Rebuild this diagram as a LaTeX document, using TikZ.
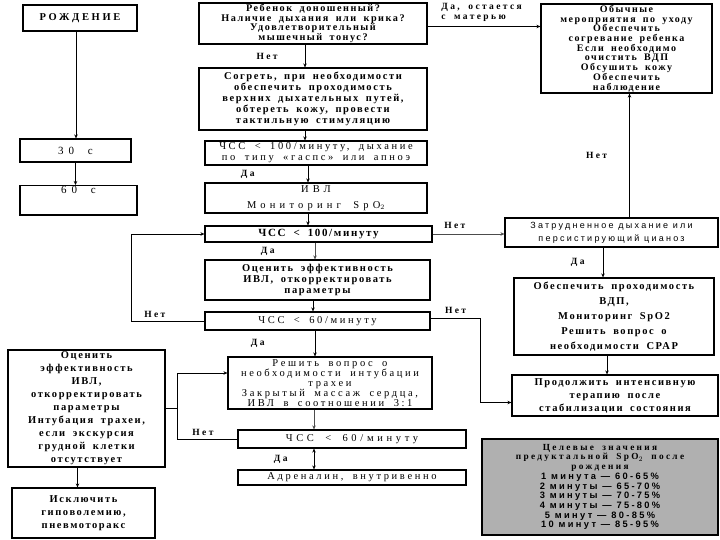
\documentclass[tikz,border=0pt]{standalone}
\usepackage{fontspec}
\setmainfont{Liberation Serif}
\newfontfamily\shirfont[LetterSpace=15, WordSpace=1.8]{Liberation Serif}
\newfontfamily\shirokfont[LetterSpace=25, WordSpace=1.8]{Liberation Serif}
\newfontfamily\shirsans[LetterSpace=25]{Liberation Sans}
\usetikzlibrary{arrows.meta}
\tikzset{
  blok/.style={draw, line width=1.2pt, align=center, inner sep=1pt,
    font=\shirfont\bfseries\fontsize{10.2}{9.6}\selectfont},
  tonkij/.style={font=\shirokfont\fontsize{10.5}{11}\selectfont},
  strelka/.style={-{Stealth[length=4pt,width=3.5pt]}, line width=0.8pt},
  metka/.style={inner sep=1pt, font=\shirokfont\bfseries\fontsize{9.5}{10}\selectfont}
}
\begin{document}
\begin{tikzpicture}[x=1pt,y=-1pt]
\useasboundingbox (0,0) rectangle (720,540);
% left column
\node[blok, minimum width=114, minimum height=26, font=\shirokfont\bfseries\fontsize{10.5}{11}\selectfont] (rozhd) at (80,18) {РОЖДЕНИЕ};
\node[blok, minimum width=111, minimum height=23, font=\shirokfont\addfontfeatures{LetterSpace=45}\fontsize{11}{11}\selectfont] (s30) at (75.5,150.5) {30 с};
\node[blok, minimum width=117, minimum height=27, anchor=north, font=\shirokfont\addfontfeatures{LetterSpace=45}\fontsize{11}{11}\selectfont] (s60) at (78.5,185) {60 с\\[9pt]};
% main column
\node[blok, minimum width=228, minimum height=41] (rebenok) at (313,23.5) {Ребенок доношенный?\\Наличие дыхания или крика?\\Удовлетворительный\\мышечный тонус?};
\node[blok, minimum width=228, minimum height=62, font=\shirfont\bfseries\fontsize{10.5}{11}\selectfont] (sogret) at (313,99) {Согреть, при необходимости\\обеспечить проходимость\\верхних дыхательных путей,\\обтереть кожу, провести\\тактильную стимуляцию};
\node[blok, minimum width=222, minimum height=24, tonkij] (chss1) at (316,153) {ЧСС < 100/минуту, дыхание\\по типу «гаспс» или апноэ};
\node[blok, minimum width=222, minimum height=30, font=\shirokfont\addfontfeatures{LetterSpace=40}\fontsize{10.5}{16}\selectfont] (ivl) at (316,198) {ИВЛ\\Мониторинг SpO$_2$};
\node[blok, minimum width=227, minimum height=16, font=\shirfont\bfseries\fontsize{11}{12}\selectfont] (chss2) at (318.5,234) {ЧСС < 100/минуту};
\node[blok, minimum width=225, minimum height=40, font=\shirfont\bfseries\fontsize{10.5}{11}\selectfont] (ocenit) at (317.5,280) {Оценить эффективность\\ИВЛ, откорректировать\\параметры};
\node[blok, minimum width=225, minimum height=18, tonkij] (chss3) at (317.5,321) {ЧСС < 60/минуту};
\node[blok, minimum width=204, minimum height=52, font=\shirokfont\fontsize{10.5}{10}\selectfont] (reshit) at (330,383) {Решить вопрос о\\необходимости интубации\\трахеи\\Закрытый массаж сердца,\\ИВЛ в соотношении 3:1};
\node[blok, minimum width=228, minimum height=18, font=\shirokfont\addfontfeatures{LetterSpace=35}\fontsize{10.5}{11}\selectfont] (chss4) at (352,439) {ЧСС < 60/минуту};
\node[blok, minimum width=228, minimum height=15, tonkij] (adren) at (352,477.5) {Адреналин, внутривенно};
% right column
\node[blok, minimum width=171, minimum height=89, font=\shirfont\bfseries\fontsize{10}{9.7}\selectfont] (obych) at (626.5,48.5) {Обычные\\мероприятия по уходу\\Обеспечить\\согревание ребенка\\Если необходимо\\очистить ВДП\\Обсушить кожу\\Обеспечить\\наблюдение};
\node[blok, minimum width=213, minimum height=29, font=\shirsans\fontsize{9}{13}\selectfont] (zatr) at (611.5,232.5) {Затрудненное дыхание или\\персистирующий цианоз};
\node[blok, minimum width=200, minimum height=77, font=\shirfont\bfseries\fontsize{10.5}{15}\selectfont] (obesp) at (614,316.5) {Обеспечить проходимость\\ВДП,\\Мониторинг SpO2\\Решить вопрос о\\необходимости СРАР};
\node[blok, minimum width=206, minimum height=41, font=\shirfont\bfseries\fontsize{10.5}{13}\selectfont] (prod) at (615,395.5) {Продолжить интенсивную\\терапию после\\стабилизации состояния};
\node[blok, minimum width=236, minimum height=96, fill=gray!62, font=\shirsans\bfseries\fontsize{9.3}{9.7}\selectfont] (celev) at (600,487) {{\shirokfont Целевые значения}\\{\shirokfont предуктальной SpO$_2$ после}\\{\shirokfont рождения}\\1 минута — 60-65\%\\2 минуты — 65-70\%\\3 минуты — 70-75\%\\4 минуты — 75-80\%\\5 минут — 80-85\%\\10 минут — 85-95\%};
% lower left
\node[blok, minimum width=157, minimum height=117, font=\shirfont\bfseries\fontsize{10.5}{13}\selectfont] (levy) at (86.5,408.5) {Оценить\\эффективность\\ИВЛ,\\откорректировать\\параметры\\Интубация трахеи,\\если экскурсия\\грудной клетки\\отсутствует};
\node[blok, minimum width=143, minimum height=50, font=\shirfont\bfseries\fontsize{10.5}{13}\selectfont] (iskl) at (83.5,513) {Исключить\\гиповолемию,\\пневмоторакс};
\coordinate (uzel) at (177,410);
% connectors
\draw[strelka] ([xshift=-4]rozhd.south) -- ([xshift=-4]rozhd.south |- s30.north);
\draw[strelka] (s30.south) -- (s30.south |- s60.north);
\draw[strelka] ([yshift=-3]rebenok.east) -- ([yshift=-3]rebenok.east -| obych.west)
  node[metka, pos=0.11, anchor=south west, align=left, yshift=4pt] {Да, остается\\с матерью};
\draw[strelka] ([xshift=-8]rebenok.south) -- ([xshift=-8]rebenok.south |- sogret.north)
  node[metka, midway, left=26pt] {Нет};
\draw[strelka] ([xshift=-8]sogret.south) -- ([xshift=-8]sogret.south |- chss1.north);
\draw[strelka] ([xshift=-8]chss1.south) -- ([xshift=-8]chss1.south |- ivl.north)
  node[metka, midway, left=52pt] {Да};
\draw[strelka] ([xshift=-8]ivl.south) -- ([xshift=-8]ivl.south |- chss2.north);
\draw[strelka, draw=black!70] ([xshift=-3.5]chss2.south) -- ([xshift=-3.5]chss2.south |- ocenit.north)
  node[metka, midway, left=39pt] {Да};
\draw[strelka, draw=black!70] (chss2.east) -- (chss2.east -| zatr.west)
  node[metka, pos=0.31, above=4pt] {Нет};
\draw[strelka] ([xshift=18]zatr.north) -- ([xshift=18]zatr.north |- obych.south)
  node[metka, midway, left=21pt] {Нет};
\draw[strelka] ([xshift=-8.5]zatr.south) -- ([xshift=-8.5]zatr.south |- obesp.north)
  node[metka, midway, left=17pt] {Да};
\draw[strelka] ([xshift=-7]obesp.south) -- ([xshift=-7]obesp.south |- prod.north);
\draw[strelka] ([xshift=-4.5]ocenit.south) -- ([xshift=-4.5]ocenit.south |- chss3.north);
\draw[strelka] (chss3.west) -- ++(-73,0) node[metka, pos=0.68, above=2pt] {Нет} |- (chss2.west);
\draw[strelka] ([yshift=3]chss3.east) -- ++(50,0) node[metka, midway, above=3pt] {Нет}
  |- ([yshift=-7]prod.west);
\draw[strelka] ([xshift=-2.5]chss3.south) -- ([xshift=-2.5]chss3.south |- reshit.north)
  node[metka, midway, left=49pt] {Да};
\draw[strelka, draw=black!70] ([xshift=-16]reshit.south) -- ([xshift=-16]reshit.south |- chss4.north);
\draw[{Stealth[length=4pt,width=3.5pt]}-{Stealth[length=4pt,width=3.5pt]}, line width=0.8pt]
  ([xshift=-38]chss4.south) -- ([xshift=-38]chss4.south |- adren.north)
  node[metka, midway, left=25pt] {Да};
\draw[strelka] (chss4.west) -- (chss4.west -| uzel) node[metka, pos=0.57, above=2pt] {Нет}
  |- ([yshift=10]reshit.west);
\draw[line width=0.8pt] (levy.east) -- (levy.east -| uzel);
\draw[strelka] ([xshift=-9]levy.south) -- ([xshift=-9]levy.south |- iskl.north);
\end{tikzpicture}
\end{document}
